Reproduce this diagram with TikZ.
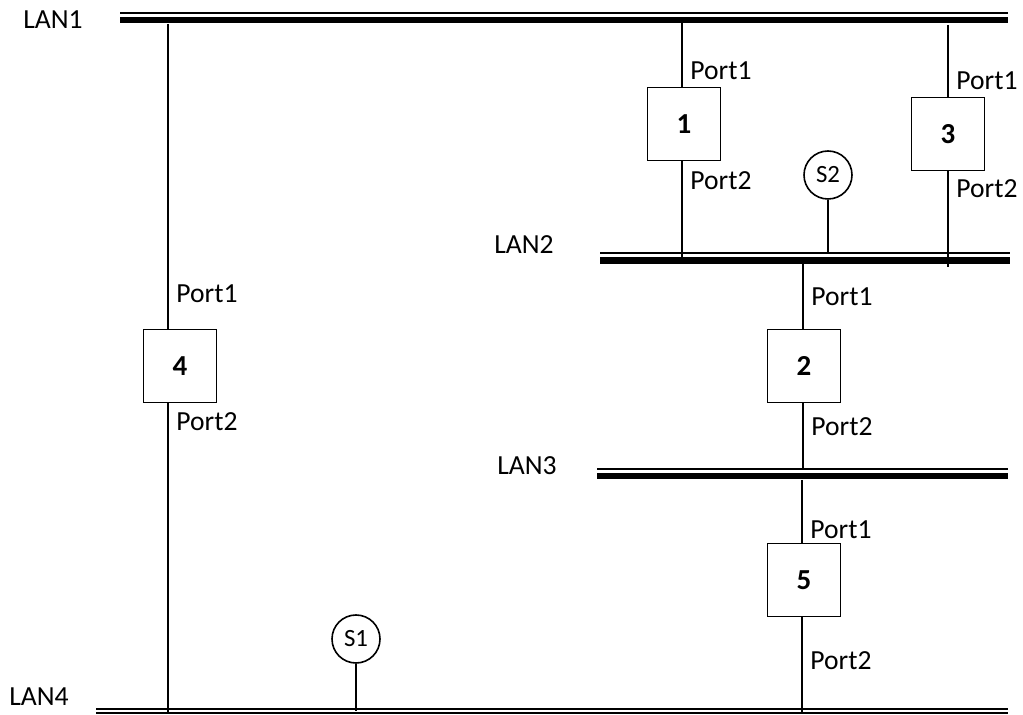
\documentclass[tikz,border=0pt]{standalone}
\usepackage{fontspec}
\setmainfont{Carlito}

\begin{document}
\begin{tikzpicture}[x=0.5pt,y=-0.5pt,
    link/.style={line width=1pt},
    busthin/.style={line width=1pt},
    busthick/.style={line width=3.4pt},
    switch/.style={draw,line width=0.8pt,fill=white,minimum size=36.5pt,inner sep=0pt,font=\fontsize{14.5}{16}\selectfont\bfseries},
    port/.style={anchor=west,inner sep=0pt,font=\fontsize{13.8}{16}\selectfont},
    station/.style={draw,circle,line width=0.8pt,minimum size=24pt,inner sep=0pt,font=\fontsize{12.4}{14}\selectfont}]
  \useasboundingbox (0,0) rectangle (1023,715);
  % LAN buses
  \foreach \n/\xa/\xb/\y in {1/120/1008/13,2/600/1010/253.5,3/597/1008/469}
  {
    \draw[busthin] (\xa,\y) -- (\xb,\y);
    \draw[busthick] (\xa,\y+7) -- (\xb,\y+7);
  }
  \draw[busthin] (96,709.5) -- (1008,709.5);
  \draw[busthin] (96,713.2) -- (1008,713.2);
  \foreach \n/\x/\y in {1/53/20,2/524/245,3/527/466,4/39/697}
    \node[font=\fontsize{13.8}{16}\selectfont] (lan\n) at (\x,\y) {LAN\n};
  % switches and ports
  \foreach \n/\x/\y in {1/684/124,2/804/366,3/948/134,4/180/366,5/804/580}
    \node[switch] (b\n) at (\x,\y) {\n};
  \foreach \n/\x/\ya/\yb/\pa/\pb in {1/682/22/258/71/181,2/803/264/470/297/427,3/948/25/267/81/189,4/168/24/713/294/422,5/802/480/713/530/661}
  {
    \coordinate (top\n) at (\x,\ya);
    \coordinate (bot\n) at (\x,\yb);
    \draw[link] (top\n) -- (top\n |- b\n.north);
    \draw[link] (bot\n |- b\n.south) -- (bot\n);
    \node[port] (p\n a) at (\x+8,\pa) {Port1};
    \node[port] (p\n b) at (\x+8,\pb) {Port2};
  }
  % stations
  \foreach \n/\x/\y/\yb in {1/356/639/711,2/828/175/252}
  {
    \node[station] (s\n) at (\x,\y) {S\n};
    \coordinate (st\n) at (\x,\yb);
    \draw[link] (s\n) -- (st\n);
  }
\end{tikzpicture}
\end{document}
